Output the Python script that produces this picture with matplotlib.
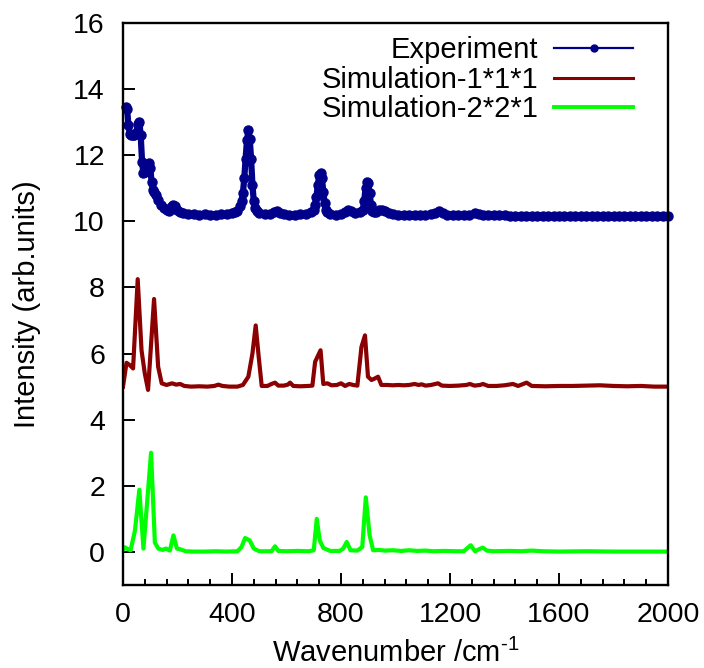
import numpy as np
import matplotlib
matplotlib.use('Agg')
import matplotlib.pyplot as plt
from matplotlib.lines import Line2D
from matplotlib.ticker import MultipleLocator

plt.rcParams['font.family'] = ['Liberation Sans', 'DejaVu Sans']
plt.rcParams['mathtext.fontset'] = 'custom'
plt.rcParams['mathtext.rm'] = 'Liberation Sans'
plt.rcParams['mathtext.it'] = 'Liberation Sans'

# experiment (offset +10)
exp_x = [12, 15, 20, 25, 30, 35, 40, 45, 50, 55, 60, 65, 70, 75, 80, 85, 90, 95, 100,
         105, 110, 115, 120, 130, 140, 150, 160, 170, 180, 185, 190, 200, 210, 220,
         240, 260, 280, 300, 320, 340, 360, 380, 400, 410, 420, 430, 435, 440, 445,
         450, 455, 460, 465, 470, 475, 480, 485, 490, 500, 520, 540, 555, 565, 575,
         590, 610, 630, 650, 670, 690, 700, 705, 710, 715, 720, 725, 730, 735, 740,
         745, 750, 760, 780, 800, 815, 825, 835, 850, 870, 880, 885, 890, 895, 900,
         905, 910, 915, 920, 930, 940, 950, 960, 975, 990, 1010, 1030, 1050, 1070,
         1090, 1110, 1130, 1145, 1160, 1175, 1190, 1210, 1230, 1250, 1270, 1290,
         1305, 1320, 1340, 1360, 1380, 1400, 1420, 1440, 1460, 1480, 1500, 1520,
         1540, 1560, 1580, 1600, 1620, 1640, 1660, 1680, 1700, 1720, 1740, 1760,
         1780, 1800, 1820, 1840, 1860, 1880, 1900, 1920, 1940, 1960, 1980, 2000]
exp_y = [13.45, 13.4, 12.9, 12.65, 12.6, 12.6, 12.6, 12.65, 12.7, 12.95, 13.0, 12.6,
         11.8, 11.45, 11.5, 11.6, 11.7, 11.75, 11.6, 11.2, 10.95, 10.9, 10.8, 10.65,
         10.5, 10.4, 10.33, 10.32, 10.45, 10.5, 10.47, 10.35, 10.28, 10.25,
         10.22, 10.21, 10.2, 10.21, 10.2, 10.2, 10.21, 10.22, 10.25, 10.27, 10.32,
         10.45, 10.6, 10.85, 11.3, 11.9, 12.45, 12.75, 12.5, 11.9, 11.1, 10.6, 10.4,
         10.3, 10.25, 10.22, 10.23, 10.28, 10.3, 10.25, 10.22, 10.2, 10.2, 10.21,
         10.22, 10.28, 10.35, 10.5, 10.75, 11.1, 11.4, 11.45, 11.3, 10.9, 10.55,
         10.35, 10.28, 10.22, 10.2, 10.22, 10.28, 10.35, 10.3, 10.25, 10.27, 10.35,
         10.6, 11.0, 11.2, 11.15, 10.85, 10.5, 10.3, 10.27, 10.28, 10.33, 10.35,
         10.3, 10.25, 10.22, 10.2, 10.2, 10.2, 10.19, 10.2, 10.2, 10.22, 10.26,
         10.3, 10.25, 10.2, 10.19, 10.18, 10.19, 10.2, 10.25, 10.22, 10.19, 10.18,
         10.18, 10.18, 10.18, 10.17, 10.17, 10.17, 10.17, 10.17, 10.17, 10.17,
         10.16, 10.16, 10.16, 10.16, 10.16, 10.16, 10.16, 10.16, 10.16, 10.16,
         10.16, 10.15, 10.15, 10.15, 10.15, 10.15, 10.15, 10.15, 10.15, 10.15,
         10.15, 10.15, 10.15]

# simulation 1*1*1 (offset +5)
sim1_x = [0, 13, 25, 37, 54, 68, 80, 92, 114, 129, 142, 160, 180, 195, 210, 225, 250,
          280, 310, 335, 350, 365, 390, 420, 440, 460, 475, 487, 498, 509, 530, 545,
          558, 570, 590, 605, 613, 625, 650, 680, 695, 705, 725, 735, 750, 765, 785,
          800, 815, 830, 845, 860, 875, 888, 899, 912, 925, 936, 948, 970, 990, 1010,
          1030, 1050, 1070, 1085, 1096, 1110, 1130, 1156, 1170, 1200, 1230, 1260,
          1273, 1290, 1310, 1321, 1340, 1370, 1400, 1431, 1450, 1481, 1500, 1550,
          1600, 1650, 1700, 1750, 1800, 1850, 1900, 1950, 2000]
sim1_y = [5.0, 5.72, 5.65, 5.55, 8.25, 6.1, 5.4, 4.9, 7.65, 5.6, 5.1, 5.05, 5.1, 5.06,
          5.08, 5.02, 5.0, 5.01, 5.0, 5.02, 5.06, 5.02, 5.0, 5.0, 5.05, 5.3, 6.0, 6.85,
          5.9, 5.02, 5.02, 5.08, 5.12, 5.03, 5.03, 5.06, 5.12, 5.02, 5.01, 5.02, 5.03,
          5.75, 6.1, 5.08, 5.1, 5.04, 5.05, 5.1, 5.02, 5.08, 5.05, 5.03, 6.2, 6.55,
          5.3, 5.2, 5.25, 5.3, 5.05, 5.05, 5.04, 5.05, 5.04, 5.05, 5.08, 5.05, 5.07,
          5.03, 5.05, 5.1, 5.03, 5.02, 5.03, 5.05, 5.08, 5.03, 5.05, 5.08, 5.02, 5.02,
          5.04, 5.08, 5.02, 5.12, 5.02, 5.01, 5.02, 5.02, 5.03, 5.04, 5.02, 5.01,
          5.02, 5.0, 5.0]

# simulation 2*2*1
sim2_x = [0, 7, 18, 28, 44, 60, 75, 103, 117, 130, 145, 158, 172, 185, 198, 210, 230,
          260, 300, 340, 380, 420, 435, 448, 465, 480, 500, 545, 558, 570, 600, 640,
          680, 700, 711, 722, 735, 760, 795, 808, 821, 835, 860, 878, 891, 905, 918,
          940, 960, 990, 1020, 1050, 1080, 1110, 1140, 1180, 1220, 1250, 1276, 1292,
          1306, 1320, 1335, 1360, 1420, 1460, 1500, 1540, 1600, 1700, 1800, 1900, 2000]
sim2_y = [0.06, 0.14, 0.08, 0.05, 0.65, 1.88, 0.1, 3.0, 0.28, 0.1, 0.06, 0.1, 0.04,
          0.5, 0.1, 0.08, 0.02, 0.01, 0.01, 0.02, 0.01, 0.02, 0.15, 0.42, 0.35, 0.1,
          0.02, 0.02, 0.17, 0.03, 0.02, 0.03, 0.02, 0.05, 1.0, 0.35, 0.12, 0.03, 0.03,
          0.1, 0.3, 0.05, 0.04, 0.15, 1.65, 0.5, 0.05, 0.06, 0.04, 0.05, 0.03, 0.05,
          0.03, 0.04, 0.02, 0.03, 0.02, 0.02, 0.2, 0.02, 0.08, 0.13, 0.04, 0.02, 0.03,
          0.02, 0.04, 0.02, 0.01, 0.02, 0.01, 0.01, 0.01]

labels = ['Experiment', 'Simulation-1*1*1', 'Simulation-2*2*1']
colors = ['#00008b', '#8b0000', '#00ff00']

fig = plt.figure(figsize=(7.04, 6.68), dpi=100)
ax = fig.add_axes([0.1747, 0.1243, 0.7742, 0.8413])

ax.plot(exp_x, exp_y, color=colors[0], lw=4.5, marker='o', ms=6.5,
        mec=colors[0], mfc=colors[0], clip_on=False)
ax.plot(sim1_x, sim1_y, color=colors[1], lw=3.0)
ax.plot(sim2_x, sim2_y, color=colors[2], lw=3.0)

ax.set_xlim(0, 2000)
ax.set_ylim(-1, 16)
ax.xaxis.set_major_locator(MultipleLocator(400))
ax.xaxis.set_minor_locator(MultipleLocator(80))
ax.set_yticks([0, 2, 4, 6, 8, 10, 12, 14, 16])

ax.tick_params(which='both', direction='in', width=1.4, top=False, right=False,
               labelsize=20.5)
ax.tick_params(which='major', length=8.6)
ax.tick_params(which='minor', length=4.3)
ax.tick_params(axis='x', pad=12)
ax.tick_params(axis='y', pad=13)
for s in ax.spines.values():
    s.set_linewidth(1.7)

ax.set_xlabel(r'Wavenumber /cm$^{\text{-1}}$', fontsize=21, labelpad=8)
ax.set_ylabel('Intensity (arb.units)', fontsize=21, labelpad=23)

handles = [
    Line2D([], [], color=colors[0], lw=1.6, marker='o', ms=5),
    Line2D([], [], color=colors[1], lw=2.2),
    Line2D([], [], color=colors[2], lw=2.8),
]
ax.legend(handles, labels, loc='upper right', bbox_to_anchor=(0.936, 0.976),
          frameon=False, fontsize=21, markerfirst=False, handlelength=2.7,
          handletextpad=0.55, labelspacing=0.05, borderaxespad=0, borderpad=0)

fig.savefig('out.png', dpi=100)
